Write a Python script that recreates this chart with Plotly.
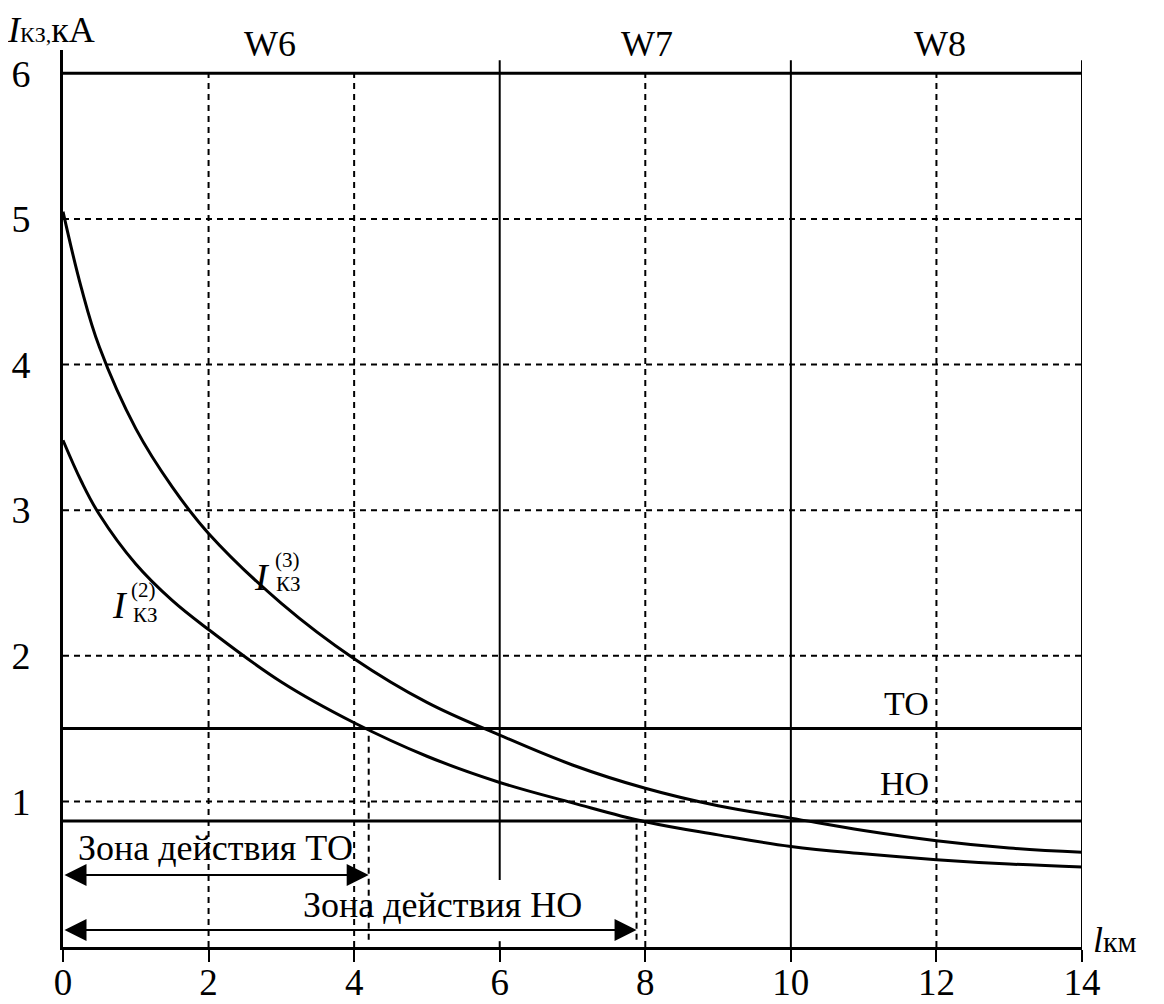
import plotly.graph_objects as go

# ---------------- data ----------------
l_km = [0, 0.25, 0.5, 1, 1.5, 2, 3, 4, 5, 6, 7, 8, 9, 10, 11, 12, 13, 14]
i_kz3 = [5.05, 4.53, 4.12, 3.56, 3.16, 2.84, 2.36, 1.98, 1.68, 1.455, 1.25, 1.09, 0.97, 0.885, 0.8, 0.73, 0.68, 0.65]
i_kz2 = [3.48, 3.2, 2.97, 2.63, 2.38, 2.18, 1.82, 1.54, 1.31, 1.13, 0.99, 0.86, 0.77, 0.69, 0.64, 0.6, 0.57, 0.55]

x_ticks = [0, 2, 4, 6, 8, 10, 12, 14]
y_ticks = [1, 2, 3, 4, 5, 6]
grid_x_dashed = [2, 4, 8, 12]
grid_y_dashed = [1, 2, 3, 4, 5]
section_bounds = [6, 10, 14]
sections = ["W6", "W7", "W8"]
section_centers = [2.85, 8.03, 12.05]
I_TO = 1.5      # current setting of ТО
I_HO = 0.865    # current setting of НО
zone_TO = 4.2   # end of ТО zone, km
zone_HO = 7.88  # end of НО zone, km
x_max = 14
y_top = 6
Y_MAX = 6.16

FONT = "Liberation Serif"
fig = go.Figure()

LW = 3
for ys, name in [(i_kz3, "I3"), (i_kz2, "I2")]:
    fig.add_trace(go.Scatter(x=l_km, y=ys, mode="lines", line=dict(color="black", width=LW, shape="spline", smoothing=1.1),
                             showlegend=False, hoverinfo="skip", name=name))

shapes = []
dash = dict(color="black", width=2, dash="6px,5px")
for gx in grid_x_dashed:
    shapes.append(dict(type="line", x0=gx, x1=gx, y0=0, y1=y_top, xref="x", yref="y", line=dash, layer="below"))
for gy in grid_y_dashed:
    shapes.append(dict(type="line", x0=0, x1=x_max, y0=gy, y1=gy, xref="x", yref="y", line=dash, layer="below"))
# section boundaries
shapes.append(dict(type="line", x0=section_bounds[0], x1=section_bounds[0], y0=0.46, y1=6.09, xref="x", yref="y", line=dict(color="black", width=2)))
shapes.append(dict(type="line", x0=section_bounds[0], x1=section_bounds[0], y0=-0.06, y1=0.04, xref="x", yref="y", line=dict(color="black", width=2)))
for sb in section_bounds[1:]:
    shapes.append(dict(type="line", x0=sb, x1=sb, y0=0, y1=6.09, xref="x", yref="y", line=dict(color="black", width=2)))
# top line at 6
shapes.append(dict(type="line", x0=0, x1=x_max, y0=y_top, y1=y_top, xref="x", yref="y", line=dict(color="black", width=LW)))
# settings lines
for lvl in [I_TO, I_HO]:
    shapes.append(dict(type="line", x0=0, x1=x_max, y0=lvl, y1=lvl, xref="x", yref="y", line=dict(color="black", width=LW)))
# zone end dashed verticals
shapes.append(dict(type="line", x0=zone_TO, x1=zone_TO, y0=0.05, y1=I_TO, xref="x", yref="y", line=dash))
shapes.append(dict(type="line", x0=zone_HO, x1=zone_HO, y0=0.05, y1=I_HO, xref="x", yref="y", line=dash))

ann = []
def txt(x, y, t, size=30, xa="center", ya="middle"):
    # convert data coordinates to paper so labels outside the axis range still show
    ann.append(dict(x=x / x_max, y=y / Y_MAX, text=t, showarrow=False, xref="paper", yref="paper",
                    xanchor=xa, yanchor=ya, font=dict(family=FONT, size=size, color="black")))

for name, cx in zip(sections, section_centers):
    txt(cx, 6.2, name, size=36)
txt(-0.8, 6.3, "<i>I</i><span style='font-size:22px'>КЗ,</span>кА", size=36, xa="left")
txt(14.12, 0.05, "<i>l</i><span style='font-size:30px'>км</span>", size=36, xa="left")
txt(11.92, 1.67, "ТО", size=34, xa="right")
txt(11.92, 1.12, "НО", size=34, xa="right")
# curve labels
txt(2.73, 2.54, "<i>I</i>", size=38)
txt(3.09, 2.66, "(3)", size=21)
txt(3.10, 2.49, "КЗ", size=21)
txt(0.78, 2.35, "<i>I</i>", size=38)
txt(1.10, 2.45, "(2)", size=21)
txt(1.13, 2.28, "КЗ", size=21)
# zones
txt(2.09, 0.68, "Зона действия ТО", size=36)
txt(5.22, 0.29, "Зона действия НО", size=36)
for xend, yv in [(zone_TO, 0.495), (zone_HO, 0.117)]:
    ann.append(dict(x=xend, y=yv, ax=0, ay=yv, xref="x", yref="y", axref="x", ayref="y", text="",
                    showarrow=True, arrowhead=2, arrowside="end+start", arrowsize=2.2, arrowwidth=2,
                    arrowcolor="black", startarrowhead=2, startarrowsize=2.2))

# page body has an 8px margin, so the figure is 8px smaller and margins shifted to keep the plot area in place
fig.update_layout(
    width=1156, height=996,
    margin=dict(l=55, r=82, t=42, b=57, autoexpand=False),
    paper_bgcolor="white", plot_bgcolor="white",
    shapes=shapes, annotations=ann, showlegend=False,
    xaxis=dict(range=[0, x_max], tickvals=x_ticks, showgrid=False, zeroline=False, showline=True, linewidth=LW,
               linecolor="black", ticks="outside", ticklen=12, tickwidth=2, tickcolor="black", automargin=False,
               tickfont=dict(family=FONT, size=37, color="black"), ticklabelstandoff=-11),
    yaxis=dict(range=[0, Y_MAX], tickvals=y_ticks, showgrid=False, zeroline=False, showline=True, linewidth=LW,
               linecolor="black", ticks="", automargin=False, tickfont=dict(family=FONT, size=38, color="black"),
               ticklabelstandoff=22),
)
fig.write_html("out.html")
